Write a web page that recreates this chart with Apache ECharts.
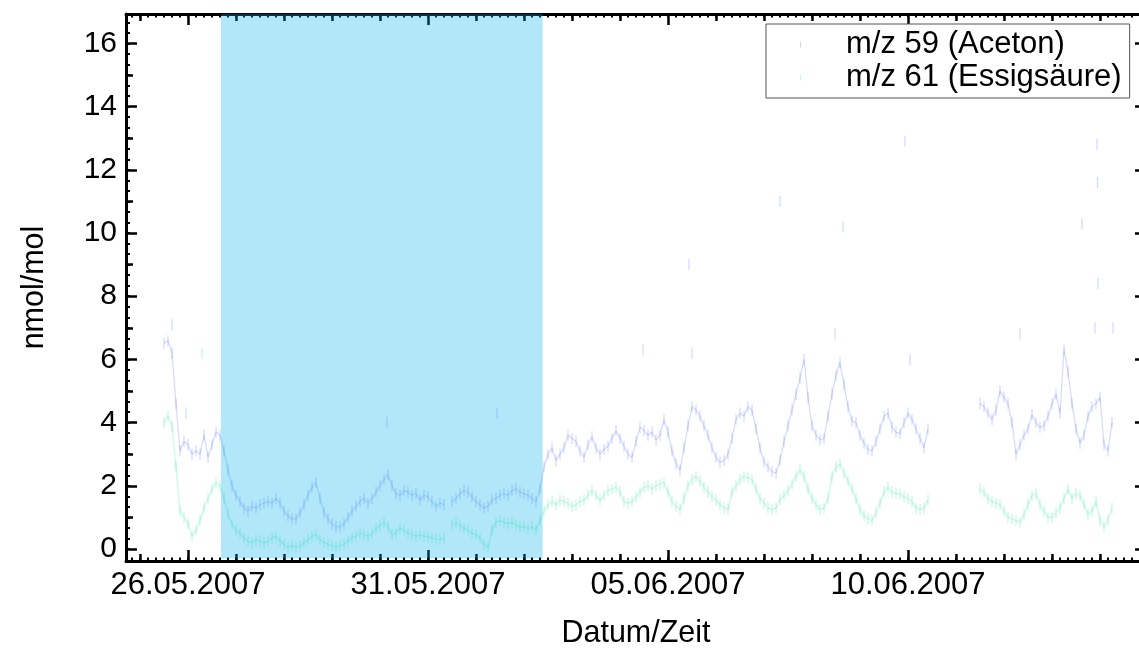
<!DOCTYPE html>
<html>
<head>
<meta charset="utf-8">
<script src="https://cdn.jsdelivr.net/npm/echarts@6/dist/echarts.min.js"></script>
<style>
  html, body { margin: 0; padding: 0; background: #fff; }
  #chart { width: 1139px; height: 648px; }
</style>
</head>
<body>
<div id="chart"></div>
<script>
// PTR-MS time series: acetone (m/z 59) and acetic acid (m/z 61), 25.05.–14.06.2007

// one value every 2 hours, first sample at 25.05.2007 12:00 (null = no data)
const sampleStart = '2007-05-25 12:00';
const sampleStepHours = 2;

const acetone = [
  /* 25.05 12-22 */ 6.5, 6.6, 6.2, 4.6, 3.1, 3.4,
  /* 26.05 */ 3.3, 3.0, 3.1, 3.0, 3.6, 2.9, 3.3, 3.7, 3.6, 3.1, 2.5, 2.0,
  /* 27.05 */ 1.7, 1.5, 1.3, 1.2, 1.35, 1.3, 1.4, 1.45, 1.5, 1.45, 1.6, 1.45,
  /* 28.05 */ 1.2, 1.05, 0.95, 0.95, 1.15, 1.4, 1.7, 1.95, 2.1, 1.6, 1.15, 0.95,
  /* 29.05 */ 0.8, 0.7, 0.7, 0.8, 1.0, 1.2, 1.35, 1.5, 1.6, 1.45, 1.6, 1.8,
  /* 30.05 */ 2.0, 2.2, 2.35, 2.0, 1.75, 1.7, 1.85, 1.8, 1.7, 1.75, 1.55, 1.7,
  /* 31.05 */ 1.65, 1.5, 1.35, 1.45, 1.4, null, 1.5, 1.6, 1.75, 1.85, 1.8, 1.65,
  /* 01.06 */ 1.5, 1.4, 1.3, 1.35, 1.55, 1.6, 1.7, 1.75, 1.7, 1.85, 1.9, 1.8,
  /* 02.06 */ 1.75, 1.7, 1.6, 1.5, 1.9, 2.6, 3.0, 3.2, 2.8, 3.0, 3.2, 3.6,
  /* 03.06 */ 3.5, 3.4, 3.1, 2.9, 3.3, 3.55, 3.2, 3.0, 3.15, 3.25, 3.5, 3.75,
  /* 04.06 */ 3.5, 3.25, 3.0, 2.9, 3.4, 3.85, 3.75, 3.6, 3.7, 3.45, 3.6, 4.1,
  /* 05.06 */ 3.7, 3.1, 2.7, 2.5, 3.2, 3.9, 4.5, 4.4, 4.2, 3.9, 3.6, 3.2,
  /* 06.06 */ 2.9, 2.75, 2.8, 3.0, 3.5, 4.1, 4.3, 4.2, 4.5, 4.4, 3.8, 3.2,
  /* 07.06 */ 2.75, 2.6, 2.45, 2.4, 2.8, 3.4, 3.9, 4.4, 4.9, 5.4, 6.0, 4.8,
  /* 08.06 */ 3.9, 3.6, 3.45, 3.5, 4.2, 4.9, 5.5, 5.9, 5.2, 4.5, 4.05, 4.0,
  /* 09.06 */ 3.6, 3.35, 3.15, 3.1, 3.4, 3.8, 4.2, 4.3, 3.85, 3.7, 3.65, 4.0,
  /* 10.06 */ 4.3, 4.1, 3.8, 3.5, 3.2, 3.8, null, null, null, null, null, null,
  /* 11.06 */ null, null, null, null, null, null, 4.6, 4.5, 4.3, 4.1, 4.4, 5.0,
  /* 12.06 */ 4.8, 4.6, 4.0, 3.0, 3.3, 3.6, 3.8, 4.25, 4.0, 3.85, 3.9, 4.2,
  /* 13.06 */ 4.6, 4.9, 4.3, 6.3, 5.6, 4.6, 3.8, 3.35, 3.6, 4.2, 4.5, 4.6,
  /* 14.06 00-06 */ 4.8, 3.3, 3.1, 4.0
];

const aceticAcid = [
  /* 25.05 12-22 */ 4.0, 4.2, 3.9, 2.6, 1.2, 1.0,
  /* 26.05 */ 0.8, 0.4, 0.6, 0.9, 1.3, 1.6, 1.9, 2.1, 2.0, 1.6, 1.1, 0.8,
  /* 27.05 */ 0.6, 0.5, 0.35, 0.25, 0.2, 0.3, 0.25, 0.2, 0.25, 0.35, 0.4, 0.25,
  /* 28.05 */ 0.15, 0.05, 0.1, 0.05, 0.1, 0.2, 0.3, 0.4, 0.45, 0.3, 0.2, 0.15,
  /* 29.05 */ 0.1, 0.05, 0.1, 0.15, 0.25, 0.35, 0.4, 0.5, 0.45, 0.4, 0.5, 0.65,
  /* 30.05 */ 0.75, 0.85, 0.7, 0.45, 0.5, 0.65, 0.6, 0.5, 0.45, 0.4, 0.45, 0.4,
  /* 31.05 */ 0.4, 0.35, 0.3, 0.3, 0.35, null, 0.75, 0.85, 0.75, 0.65, 0.6, 0.5,
  /* 01.06 */ 0.45, 0.35, 0.15, 0.05, 0.6, 0.85, 0.9, 0.85, 0.8, 0.85, 0.75, 0.7,
  /* 02.06 */ 0.7, 0.65, 0.7, 0.6, 0.9, 1.2, 1.4, 1.5, 1.4, 1.55, 1.5, 1.45,
  /* 03.06 */ 1.35, 1.4, 1.5, 1.55, 1.7, 1.85, 1.7, 1.55, 1.7, 1.85, 1.9, 1.95,
  /* 04.06 */ 1.8, 1.5, 1.45, 1.5, 1.65, 1.8, 1.95, 2.0, 1.9, 2.0, 2.05, 2.1,
  /* 05.06 */ 1.8, 1.5, 1.35, 1.25, 1.6, 2.0, 2.2, 2.3, 2.15, 1.95, 1.8, 1.65,
  /* 06.06 */ 1.55, 1.4, 1.3, 1.25, 1.8, 2.0, 2.2, 2.3, 2.25, 2.2, 1.9, 1.6,
  /* 07.06 */ 1.45, 1.3, 1.25, 1.3, 1.55, 1.7, 1.85, 2.05, 2.3, 2.5, 2.3, 1.9,
  /* 08.06 */ 1.6, 1.4, 1.25, 1.3, 1.6, 2.3, 2.6, 2.7, 2.4, 2.15, 1.9, 1.6,
  /* 09.06 */ 1.25, 1.05, 0.95, 0.9, 1.15, 1.45, 1.8, 1.95, 1.8, 1.75, 1.75, 1.65,
  /* 10.06 */ 1.6, 1.5, 1.3, 1.25, 1.3, 1.55, null, null, null, null, null, null,
  /* 11.06 */ null, null, null, null, null, null, 1.9, 1.8, 1.6, 1.5, 1.45, 1.4,
  /* 12.06 */ 1.2, 1.0, 0.95, 0.9, 0.85, 1.1, 1.4, 1.7, 1.75, 1.4, 1.2, 1.0,
  /* 13.06 */ 1.0, 1.15, 1.3, 1.6, 1.9, 1.6, 1.75, 1.7, 1.4, 1.1, 1.2, 1.5,
  /* 14.06 00-06 */ 0.9, 0.7, 0.9, 1.3
];

// isolated high readings
const acetoneSpikes = [
  ['2007-05-25 16:00', 7.1], ['2007-05-25 23:00', 4.3], ['2007-05-30 03:30', 4.0],
  ['2007-06-01 10:30', 4.3], ['2007-06-04 11:30', 6.3], ['2007-06-05 10:30', 9.0],
  ['2007-06-05 12:00', 6.2], ['2007-06-07 08:00', 11.0], ['2007-06-08 11:30', 6.8],
  ['2007-06-08 15:30', 10.2], ['2007-06-09 22:30', 12.9], ['2007-06-10 01:00', 6.0],
  ['2007-06-12 08:00', 6.8], ['2007-06-13 15:00', 10.3], ['2007-06-13 22:30', 12.8],
  ['2007-06-13 22:45', 11.6], ['2007-06-13 23:00', 8.4], ['2007-06-13 21:30', 7.0],
  ['2007-06-14 06:30', 7.0]
];
const aceticAcidSpikes = [
  ['2007-05-26 07:00', 6.2]
];

const seriesNames = ['m/z 59 (Aceton)', 'm/z 61 (Essigsäure)'];
const seriesColors = ['#6f86ff', '#45f0a8'];
const xTickLabels = ['26.05.2007', '31.05.2007', '05.06.2007', '10.06.2007'];
const yTickLabels = [0, 2, 4, 6, 8, 10, 12, 14, 16];
const bandRange = ['2007-05-26 16:30', '2007-06-02 09:20'];

const FONT = '"Liberation Sans", Arial, Helvetica, sans-serif';
const HOUR = 3600 * 1000;

function utc(s) {
  const [d, t] = s.split(' ');
  const [Y, M, D] = d.split('-').map(Number);
  const [h, m] = (t || '00:00').split(':').map(Number);
  return Date.UTC(Y, M - 1, D, h, m);
}
function fromLabel(s) {
  const [D, M, Y] = s.split('.').map(Number);
  return Date.UTC(Y, M - 1, D);
}

// regular samples as [time, value]; nulls kept so the trace breaks at gaps
function samplePoints(values) {
  const t0 = utc(sampleStart);
  return values.map((v, i) => [t0 + i * sampleStepHours * HOUR, v]);
}
function scatterPoints(values, spikes) {
  return samplePoints(values).filter(p => p[1] != null)
    .concat(spikes.map(([s, v]) => [utc(s), v]));
}

const xMin = utc('2007-05-24 17:00');
const xMax = utc('2007-06-14 23:00');
const yMin = -0.38, yMax = 16.93;

// tick positions for the three tick sizes on each axis
const xLabelTicks = xTickLabels.map(fromLabel);
const xDayTicks = [];
for (let t = utc('2007-05-25 00:00'); t <= xMax; t += 24 * HOUR) xDayTicks.push(t);
const xHourTicks = [];
for (let t = utc('2007-05-24 20:00'); t <= xMax; t += 4 * HOUR) xHourTicks.push(t);
const yUnitTicks = [];
for (let v = 0; v <= 16; v++) yUnitTicks.push(v);
const yThirdTicks = [];
for (let k = 0; k <= 50; k++) yThirdTicks.push(k / 3);

function xAxisLayer(position, ticks, len, width, main) {
  return {
    type: 'value', min: xMin, max: xMax, position, scale: true,
    axisLine: { show: main, onZero: false, lineStyle: { color: '#000', width: 3 } },
    axisTick: { show: true, inside: true, customValues: ticks, length: len, lineStyle: { color: '#000', width: width } },
    axisLabel: (main && position === 'bottom') ? {
      show: true, customValues: xLabelTicks, margin: 9, color: '#000',
      fontFamily: FONT, fontSize: 31,
      formatter: (v) => xTickLabels[xLabelTicks.indexOf(v)] || ''
    } : { show: false },
    splitLine: { show: false },
    ...(main && position === 'bottom' ? {
      name: 'Datum/Zeit', nameLocation: 'middle', nameGap: 57,
      nameTextStyle: { color: '#000', fontFamily: FONT, fontSize: 30.5 }
    } : {})
  };
}
function yAxisLayer(position, ticks, len, width, main) {
  return {
    type: 'value', min: yMin, max: yMax, position,
    axisLine: { show: main, onZero: false, lineStyle: { color: '#000', width: 3 } },
    axisTick: { show: true, inside: true, customValues: ticks, length: len, lineStyle: { color: '#000', width: width } },
    axisLabel: (main && position === 'left') ? {
      show: true, customValues: yTickLabels, margin: 9, color: '#000',
      fontFamily: FONT, fontSize: 30
    } : { show: false },
    splitLine: { show: false },
    ...(main && position === 'left' ? {
      name: 'nmol/mol', nameLocation: 'middle', nameGap: 76, nameRotate: 90,
      nameTextStyle: { color: '#000', fontFamily: FONT, fontSize: 30.5 }
    } : {})
  };
}

// faint connecting trace under the individual readings
function traceSeries(values, color) {
  return {
    type: 'line', xAxisIndex: 0, yAxisIndex: 0, showSymbol: false, connectNulls: false,
    silent: true, z: 2,
    lineStyle: { color, width: 1.2, opacity: 0.3 },
    data: samplePoints(values)
  };
}
// each reading as a thin vertical dash
function dashSeries(name, values, spikes, color) {
  return {
    name, type: 'scatter', xAxisIndex: 0, yAxisIndex: 0, z: 3,
    symbol: 'rect', symbolSize: [1.2, 11],
    itemStyle: { color, opacity: 0.33 },
    data: scatterPoints(values, spikes)
  };
}

const acetoneDashes = dashSeries(seriesNames[0], acetone, acetoneSpikes, seriesColors[0]);
acetoneDashes.markArea = {
  silent: true, z: 10,
  itemStyle: { color: 'rgba(0,175,235,0.3)', borderWidth: 0 },
  data: [[{ xAxis: utc(bandRange[0]), yAxis: -0.3 }, { xAxis: utc(bandRange[1]), yAxis: yMax }]]
};

const chart = echarts.init(document.getElementById('chart'), null, { renderer: 'canvas' });
chart.setOption({
  animation: false,
  backgroundColor: '#fff',
  grid: { left: 126, top: 14, width: 1020, height: 547, containLabel: false, outerBoundsMode: 'none' },
  legend: {
    orient: 'vertical', left: 766, top: 24,
    data: seriesNames, icon: 'rect', itemWidth: 1, itemHeight: 6, itemGap: 0,
    padding: [4, 8, 4, 34], backgroundColor: '#fff', borderColor: '#555', borderWidth: 1,
    textStyle: { color: '#000', fontFamily: FONT, fontSize: 31, lineHeight: 33, padding: [0, 0, 0, 40] }
  },
  xAxis: [
    xAxisLayer('bottom', xLabelTicks, 11, 2.5, true),
    xAxisLayer('bottom', xDayTicks, 7, 2.5, false),
    xAxisLayer('bottom', xHourTicks, 3.5, 2, false),
    xAxisLayer('top', xLabelTicks, 11, 2.5, true),
    xAxisLayer('top', xDayTicks, 7, 2.5, false),
    xAxisLayer('top', xHourTicks, 3.5, 2, false)
  ],
  yAxis: [
    yAxisLayer('left', yTickLabels, 11, 2.5, true),
    yAxisLayer('left', yUnitTicks, 7, 2.5, false),
    yAxisLayer('left', yThirdTicks, 4, 2, false),
    yAxisLayer('right', yTickLabels, 11, 2.5, true),
    yAxisLayer('right', yUnitTicks, 7, 2.5, false),
    yAxisLayer('right', yThirdTicks, 4, 2, false)
  ],
  series: [
    traceSeries(acetone, seriesColors[0]),
    traceSeries(aceticAcid, seriesColors[1]),
    acetoneDashes,
    dashSeries(seriesNames[1], aceticAcid, aceticAcidSpikes, seriesColors[1])
  ]
});
</script>
</body>
</html>
